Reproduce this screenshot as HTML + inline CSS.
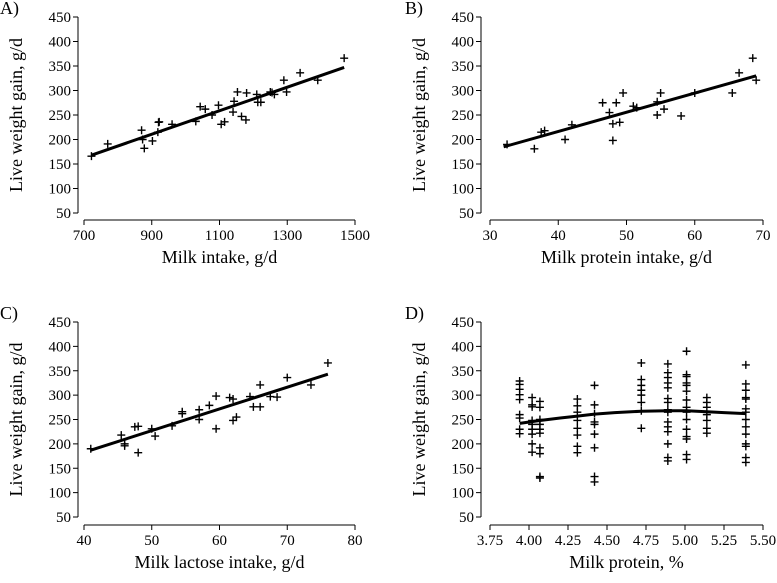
<!DOCTYPE html>
<html><head><meta charset="utf-8"><style>
body{margin:0;background:#fff;}
svg{display:block;font-family:"Liberation Serif",serif;}
</style></head><body>
<svg id="c" width="777" height="583" viewBox="0 0 777 583" xmlns="http://www.w3.org/2000/svg"></svg>
<script>
// Panel A data
const aX=[722,770,870,873,878,902,918,920,922,960,1030,1043,1058,1078,1097,1105,1115,1140,1143,1153,1165,1178,1180,1210,1213,1222,1250,1255,1262,1290,1298,1338,1390,1468];
const aY=[166,191,219,200,182,197,215,235,236,231,237,267,262,250,270,231,236,256,278,297,247,240,295,292,276,276,297,296,292,321,297,336,321,366];
const aFitX=[722,1468];
const aFitY=[168,347];
const aXTicks=[700,900,1100,1300,1500];
// Panel B data
const bX=[32.5,36.5,37.5,38,41,42,46.5,47.5,48,48,48.5,49,49.5,51,51.5,54.5,54.5,55,55.5,58,60,65.5,66.5,68.5,69];
const bY=[190,181,215,218,200,230,275,255,198,232,275,235,295,268,265,277,250,295,262,248,295,295,336,366,321];
const bFitX=[32,69];
const bFitY=[185,330];
const bXTicks=[30,40,50,60,70];
// Panel C data
const cX=[41,45.5,46,46,47.5,48,48,50,50.5,53,54.5,54.5,57,57,58.5,59.5,59.5,61.5,62,62,62.5,64.5,65,66,66,67.5,68.5,70,73.5,76];
const cY=[190,218,200,196,235,236,182,231,216,237,266,262,270,250,279,298,231,295,248,292,255,297,276,321,276,297,296,336,321,366];
const cFitX=[41,76];
const cFitY=[187,343];
const cXTicks=[40,50,60,70,80];
// Panel D data
const dGroups=[3.94,4.02,4.07,4.31,4.42,4.72,4.89,5.01,5.14,5.39];
const dVals=[
 [329,322,312,301,291,260,253,230,221],
 [295,280,276,248,240,230,220,200,183],
 [287,275,250,240,230,222,192,180,133,130],
 [292,278,265,248,232,218,195,182],
 [320,280,262,245,240,220,192,133,122],
 [366,332,320,310,300,285,268,232],
 [364,346,336,325,315,293,285,270,265,245,235,225,200,172,165],
 [390,342,338,325,320,308,290,275,265,250,230,215,210,178,168],
 [295,285,275,260,248,232,222],
 [362,323,310,295,292,272,265,250,235,220,200,195,172,162]];
const dFitX=[3.94,4.07,4.2,4.31,4.42,4.55,4.72,4.89,5.01,5.14,5.25,5.39];
const dFitY=[242,248,253,257,261,264,267,268,268,266,264,262];
const dXTicks=[3.75,4.00,4.25,4.50,4.75,5.00,5.25,5.50];
const yTicks=[50,100,150,200,250,300,350,400,450];

const NS="http://www.w3.org/2000/svg";
const svg=document.getElementById('c');
function mk(tag,attrs,parent){const e=document.createElementNS(NS,tag);for(const k in attrs)e.setAttribute(k,attrs[k]);(parent||svg).appendChild(e);return e;}

function panel(cfg){
  const g=mk('g',{});
  
  
  const xs=v=>cfg.x0+(v-cfg.xmin)/(cfg.xmax-cfg.xmin)*(cfg.x1-cfg.x0);
  const ys=v=>cfg.yTop+(450-v)/400*(cfg.yBot-cfg.yTop);
  const lab=mk('text',{x:cfg.lx,y:cfg.ly,'font-size':18},g);lab.textContent=cfg.label;
  
  
  const ya=mk('line',{x1:cfg.ax,y1:cfg.yTop,x2:cfg.ax,y2:cfg.yBot,stroke:'#000','stroke-width':1},g);
  
  
  yTicks.forEach(t=>{
    const y=ys(t);
    mk('line',{x1:cfg.ax-5,y1:y,x2:cfg.ax,y2:y,stroke:'#000'},g);
    const tx=mk('text',{x:cfg.ax-7,y:y+5,'font-size':15,'text-anchor':'end'},g);tx.textContent=t;
    
    
  });
  const xa=mk('line',{x1:cfg.x0,y1:cfg.axy,x2:cfg.x1,y2:cfg.axy,stroke:'#000'},g);
  
  
  cfg.xTicks.forEach(t=>{
    const x=xs(t);
    mk('line',{x1:x,y1:cfg.axy,x2:x,y2:cfg.axy+5,stroke:'#000'},g);
    const tx=mk('text',{x:x,y:cfg.axy+20,'font-size':15,'text-anchor':'middle'},g);tx.textContent=cfg.fmt(t);
    
    
  });
  const yt=mk('text',{transform:`translate(${cfg.ax-56},${(cfg.yTop+cfg.yBot)/2}) rotate(-90)`,'font-size':18,'text-anchor':'middle'},g);
  yt.textContent='Live weight gain, g/d';
  
  
  const xt=mk('text',{x:(cfg.x0+cfg.x1)/2,y:cfg.axy+43,'font-size':18,'text-anchor':'middle'},g);
  xt.textContent=cfg.xTitle;
  
  
  cfg.px.forEach((v,i)=>{
    const x=xs(v),y=ys(cfg.py[i]);
    const p=mk('path',{d:`M${x-4},${y}H${x+4}M${x},${y-4}V${y+4}`,stroke:'#000','stroke-width':1.4,fill:'none'},g);
    
    
  });
  const d=cfg.fx.map((v,i)=>(i?'L':'M')+xs(v)+','+ys(cfg.fy[i])).join('');
  const fl=mk('path',{d:d,stroke:'#000','stroke-width':3,fill:'none'},g);
  
  
}
const L={ax:78,x0:84,x1:355},R={ax:481,x0:490,x1:763};
panel(Object.assign({id:'a',label:'A)',lx:0,ly:14,yTop:17,yBot:213,axy:220,xmin:700,xmax:1500,xTicks:aXTicks,fmt:t=>t,xTitle:'Milk intake, g/d',px:aX,py:aY,fx:aFitX,fy:aFitY},L));
panel(Object.assign({id:'b',label:'B)',lx:405,ly:14,yTop:17,yBot:213,axy:220,xmin:30,xmax:70,xTicks:bXTicks,fmt:t=>t,xTitle:'Milk protein intake, g/d',px:bX,py:bY,fx:bFitX,fy:bFitY},R));
panel(Object.assign({id:'c',label:'C)',lx:0,ly:319,yTop:322,yBot:517,axy:525,xmin:40,xmax:80,xTicks:cXTicks,fmt:t=>t,xTitle:'Milk lactose intake, g/d',px:cX,py:cY,fx:cFitX,fy:cFitY},L));
const dPx=[],dPy=[];
dGroups.forEach((gx,i)=>dVals[i].forEach(v=>{dPx.push(gx);dPy.push(v);}));
panel(Object.assign({id:'d',label:'D)',lx:405,ly:319,yTop:322,yBot:517,axy:525,xmin:3.75,xmax:5.5,xTicks:dXTicks,fmt:t=>t.toFixed(2),xTitle:'Milk protein, %',px:dPx,py:dPy,fx:dFitX,fy:dFitY},R));
</script>
</body></html>
